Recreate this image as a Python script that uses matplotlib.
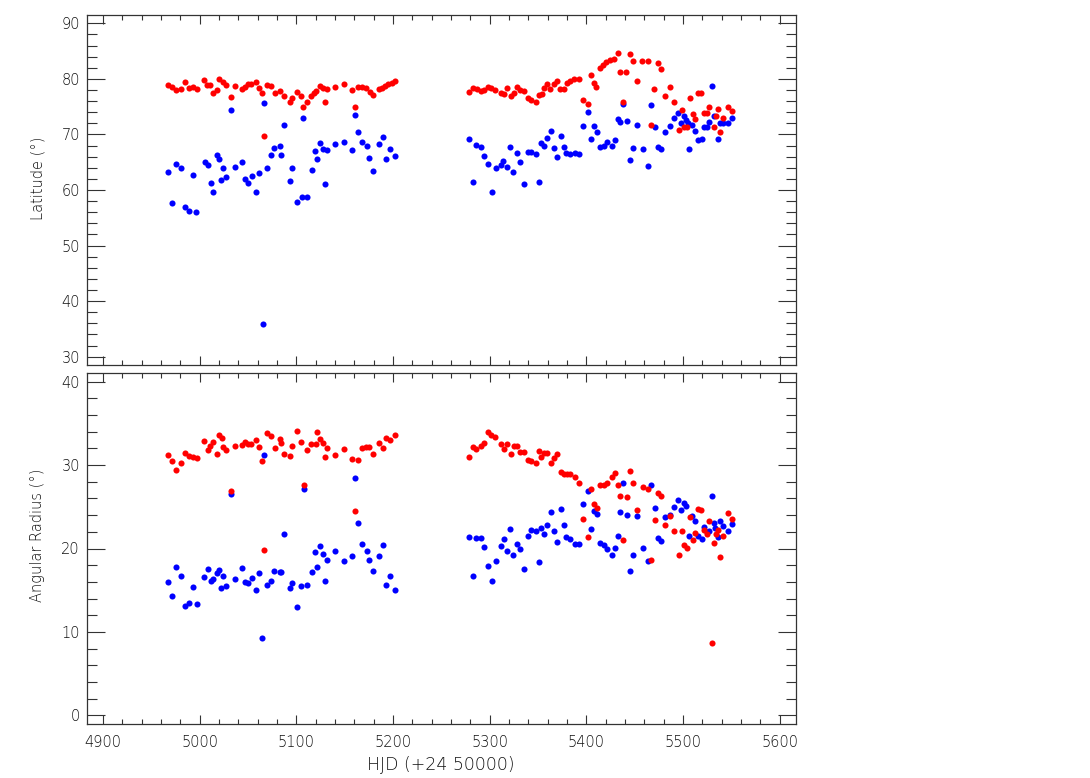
import matplotlib
matplotlib.use("Agg")
import matplotlib.pyplot as plt
from matplotlib.ticker import MultipleLocator

# ---------------- data ----------------
# Latitude panel, red series
lat_red_hjd = [4967.5, 4971.9, 4976.0, 4980.5, 4985.3, 4989.1, 4993.5, 4996.9, 5004.5, 5007.9,
               5011.0, 5013.7, 5017.5, 5020.2, 5024.0, 5027.4, 5032.5, 5037.0, 5043.9, 5046.9,
               5050.0, 5053.1, 5057.9, 5061.7, 5064.7, 5066.8, 5069.5, 5073.6, 5077.8, 5082.9,
               5087.0, 5093.5, 5095.9, 5100.7, 5104.8, 5107.2, 5111.0, 5115.4, 5118.5, 5120.9,
               5124.3, 5127.8, 5129.5, 5132.2, 5139.8, 5149.7, 5157.2, 5160.3, 5163.7, 5168.5,
               5172.6, 5176.4, 5179.5, 5185.3, 5188.4, 5191.8, 5195.2, 5199.0, 5202.4,
               5279.0, 5282.4, 5286.9, 5290.7, 5294.1, 5297.9, 5301.4, 5305.2, 5311.4, 5314.8,
               5318.3, 5322.1, 5325.2, 5328.3, 5331.7, 5335.2, 5339.3, 5343.1, 5347.9, 5351.0,
               5354.5, 5356.5, 5359.6, 5362.8, 5366.2, 5369.7, 5373.1, 5376.5, 5380.0, 5383.4,
               5387.2, 5392.1, 5396.2, 5402.1, 5404.5, 5407.6, 5410.3, 5413.8, 5417.2, 5420.7,
               5424.8, 5428.3, 5433.1, 5435.2, 5437.9, 5441.4, 5445.2, 5448.6, 5452.7, 5457.6,
               5464.1, 5466.9, 5470.3, 5473.8, 5477.2, 5481.7, 5486.5, 5491.0, 5495.5, 5498.6,
               5501.4, 5504.1, 5506.9, 5510.0, 5512.4, 5515.5, 5519.0, 5521.7, 5524.5, 5526.9,
               5531.7, 5534.5, 5536.5, 5538.3, 5541.0, 5546.2, 5550.3]
lat_red = [78.96, 78.48, 77.94, 78.12, 79.38, 78.30, 78.48, 78.12, 79.74, 78.90,
           78.84, 77.52, 78.00, 80.04, 79.38, 78.84, 76.68, 78.66, 78.24, 78.60,
           79.08, 79.02, 79.38, 78.42, 77.52, 69.66, 78.84, 78.78, 77.40, 77.88,
           76.86, 75.90, 76.56, 77.64, 76.92, 74.88, 75.84, 76.92, 77.40, 77.88,
           78.72, 78.30, 75.84, 78.24, 78.48, 79.14, 77.94, 74.94, 78.48, 78.48,
           78.42, 77.70, 77.10, 78.12, 78.36, 78.72, 79.02, 79.32, 79.62,
           77.58, 78.42, 78.12, 77.88, 77.94, 78.60, 78.36, 78.00, 77.40, 77.34,
           78.42, 76.98, 77.46, 78.48, 78.00, 77.88, 76.56, 76.26, 75.84, 77.16,
           77.34, 78.30, 79.02, 78.12, 79.08, 79.68, 78.12, 78.18, 79.32, 79.62,
           80.04, 79.98, 76.26, 75.42, 80.70, 79.32, 78.48, 81.96, 82.44, 83.04,
           83.34, 83.58, 84.66, 81.30, 75.78, 81.30, 84.48, 83.16, 79.62, 83.22,
           83.16, 71.76, 78.12, 82.92, 81.72, 76.86, 78.48, 75.78, 70.74, 74.40,
           71.40, 71.40, 76.50, 73.62, 72.78, 77.52, 77.52, 73.92, 73.92, 75.00,
           71.28, 73.32, 74.58, 70.44, 73.02, 74.88, 74.22]

# Latitude panel, blue series
lat_blue_hjd = [4967.5, 4971.1, 4976.0, 4980.5, 4984.4, 4989.2, 4993.5, 4996.3, 5005.1, 5008.2,
                5011.3, 5013.7, 5017.5, 5020.2, 5022.6, 5024.7, 5027.8, 5032.5, 5037.0, 5044.2,
                5047.3, 5050.4, 5053.8, 5057.9, 5061.7, 5065.5, 5066.8, 5070.2, 5074.0, 5077.4,
                5083.2, 5084.3, 5087.0, 5093.5, 5095.9, 5101.2, 5106.0, 5107.2, 5111.2, 5116.1,
                5119.5, 5121.6, 5125.0, 5127.8, 5129.5, 5132.2, 5139.8, 5149.7, 5157.2, 5160.3,
                5164.1, 5168.5, 5173.0, 5175.4, 5179.1, 5185.6, 5189.4, 5193.2, 5196.9, 5202.1,
                5279.0, 5282.4, 5285.9, 5290.7, 5294.1, 5297.9, 5302.1, 5306.2, 5311.4, 5314.1,
                5318.3, 5321.4, 5324.5, 5327.9, 5331.4, 5335.2, 5339.3, 5343.1, 5347.9, 5351.0,
                5353.4, 5356.5, 5359.6, 5363.1, 5366.5, 5369.7, 5373.8, 5376.5, 5379.3, 5382.8,
                5387.9, 5392.1, 5396.9, 5401.4, 5404.5, 5407.9, 5411.0, 5413.8, 5417.9, 5421.4,
                5426.5, 5429.6, 5432.4, 5435.2, 5437.9, 5441.7, 5445.2, 5448.6, 5452.7, 5458.3,
                5464.1, 5466.9, 5470.7, 5473.8, 5477.2, 5481.7, 5486.5, 5490.7, 5495.2, 5497.9,
                5501.0, 5503.4, 5504.8, 5506.5, 5509.6, 5512.4, 5515.8, 5519.3, 5521.7, 5524.5,
                5527.2, 5530.0, 5531.7, 5536.5, 5537.9, 5541.0, 5546.2, 5550.3]
lat_blue = [63.25, 57.60, 64.69, 64.03, 56.90, 56.30, 62.65, 56.10, 65.04, 64.50,
            61.21, 59.65, 66.30, 65.64, 61.75, 63.97, 62.29, 74.40, 64.09, 64.98,
            61.93, 61.21, 62.53, 59.65, 63.01, 35.90, 75.60, 63.91, 66.24, 67.62,
            67.98, 66.30, 71.76, 61.57, 63.91, 57.90, 58.80, 72.96, 58.70, 63.55,
            67.08, 65.64, 68.46, 67.38, 61.15, 67.14, 68.34, 68.58, 67.14, 73.50,
            70.50, 68.70, 67.98, 65.76, 63.49, 68.34, 69.48, 65.52, 67.44, 66.18,
            69.18, 61.44, 68.04, 67.68, 66.06, 64.68, 59.64, 63.91, 64.57, 65.16,
            64.08, 67.74, 63.19, 66.72, 65.10, 61.03, 66.90, 66.84, 66.48, 61.44,
            68.52, 67.98, 69.36, 70.68, 67.62, 65.88, 69.66, 67.80, 66.72, 66.48,
            66.72, 66.48, 71.58, 74.10, 69.24, 71.52, 70.38, 67.74, 67.86, 68.64,
            67.86, 69.00, 72.84, 72.24, 75.42, 72.42, 65.46, 67.56, 71.70, 67.44,
            64.32, 75.24, 71.34, 67.80, 67.38, 70.50, 71.52, 73.02, 73.92, 72.12,
            73.32, 72.60, 72.00, 67.44, 71.76, 70.68, 69.00, 69.12, 71.34, 71.28,
            72.24, 78.66, 73.38, 69.24, 72.12, 72.12, 72.00, 73.02]

# Angular radius panel, red series
rad_red_hjd = [4967.5, 4971.9, 4975.7, 4980.5, 4985.3, 4989.1, 4993.5, 4996.9, 5004.8, 5008.2,
               5011.0, 5013.7, 5017.5, 5020.2, 5023.0, 5024.7, 5027.8, 5032.5, 5037.0, 5043.9,
               5046.9, 5050.0, 5053.1, 5057.9, 5061.7, 5064.7, 5067.1, 5069.5, 5074.0, 5077.8,
               5083.2, 5084.3, 5087.0, 5093.5, 5095.9, 5100.7, 5104.8, 5107.6, 5111.0, 5115.4,
               5119.9, 5121.6, 5124.7, 5127.8, 5129.5, 5131.9, 5139.8, 5149.7, 5157.2, 5160.3,
               5164.1, 5168.5, 5172.3, 5175.7, 5179.1, 5185.6, 5189.4, 5193.2, 5196.9, 5202.1,
               5279.0, 5282.4, 5286.2, 5290.7, 5294.5, 5297.9, 5301.4, 5305.2, 5311.4, 5314.8,
               5318.3, 5321.7, 5325.2, 5328.3, 5331.7, 5335.2, 5339.3, 5343.1, 5347.9, 5351.0,
               5353.4, 5356.5, 5359.6, 5363.1, 5366.5, 5369.7, 5373.8, 5376.5, 5380.0, 5383.4,
               5387.9, 5392.1, 5396.9, 5401.4, 5404.5, 5407.9, 5411.0, 5413.8, 5417.9, 5421.4,
               5426.5, 5429.6, 5433.1, 5435.2, 5438.3, 5441.7, 5445.2, 5448.6, 5452.7, 5458.3,
               5464.1, 5466.9, 5470.7, 5473.8, 5477.2, 5481.7, 5486.5, 5491.0, 5495.5, 5498.6,
               5501.4, 5504.1, 5506.9, 5510.0, 5512.4, 5515.5, 5519.0, 5521.7, 5524.5, 5526.9,
               5529.6, 5531.7, 5534.5, 5536.5, 5538.3, 5541.0, 5546.2, 5550.3]
rad_red = [31.24, 30.52, 29.44, 30.28, 31.40, 31.12, 30.92, 30.88, 32.84, 31.76,
           32.32, 32.76, 31.32, 33.60, 33.24, 32.12, 31.76, 26.88, 32.32, 32.44,
           32.76, 32.48, 32.48, 33.00, 32.16, 30.48, 19.80, 33.80, 33.52, 32.08,
           33.08, 32.60, 31.28, 31.08, 32.24, 34.12, 32.80, 27.64, 31.84, 32.52,
           32.56, 33.96, 33.16, 32.60, 30.92, 32.08, 31.16, 31.88, 30.68, 24.52,
           30.56, 32.00, 32.20, 32.12, 31.28, 32.60, 32.04, 33.20, 33.00, 33.60,
           31.00, 32.16, 31.88, 32.32, 32.68, 33.92, 33.64, 33.36, 32.56, 31.96,
           32.48, 31.32, 32.32, 32.28, 31.60, 31.60, 30.64, 30.52, 30.20, 31.64,
           30.92, 31.40, 31.48, 30.24, 30.88, 31.36, 29.20, 28.96, 28.96, 28.88,
           28.60, 27.88, 23.52, 21.32, 27.08, 25.36, 24.88, 27.60, 27.60, 27.88,
           28.56, 29.08, 27.56, 26.28, 21.04, 26.20, 29.24, 27.80, 24.60, 27.36,
           27.12, 18.64, 23.36, 26.60, 26.28, 22.76, 23.88, 22.08, 19.20, 22.08,
           20.36, 20.08, 23.72, 21.04, 21.80, 24.76, 24.64, 22.24, 21.68, 23.28,
           8.64, 20.60, 21.72, 22.20, 18.96, 21.44, 24.20, 23.52]

# Angular radius panel, blue series
rad_blue_hjd = [4967.5, 4971.9, 4976.0, 4980.5, 4985.3, 4989.1, 4993.5, 4996.9, 5004.8, 5008.2,
                5011.3, 5013.7, 5017.5, 5020.2, 5022.6, 5024.7, 5027.8, 5032.5, 5037.0, 5044.2,
                5047.3, 5050.4, 5053.8, 5057.9, 5061.7, 5064.7, 5067.1, 5070.2, 5074.0, 5077.4,
                5083.2, 5084.3, 5087.0, 5093.5, 5095.9, 5100.7, 5104.8, 5107.6, 5111.0, 5116.1,
                5119.5, 5121.6, 5125.0, 5127.8, 5129.5, 5132.2, 5139.8, 5149.7, 5157.2, 5160.3,
                5164.1, 5168.5, 5173.0, 5175.4, 5179.1, 5185.6, 5189.4, 5193.2, 5196.9, 5202.1,
                5279.0, 5282.4, 5286.2, 5290.7, 5294.5, 5297.9, 5302.1, 5306.2, 5311.4, 5314.8,
                5318.3, 5321.4, 5324.5, 5327.9, 5331.4, 5335.2, 5339.3, 5343.1, 5347.9, 5351.0,
                5353.4, 5356.5, 5359.6, 5363.1, 5366.5, 5369.7, 5373.8, 5376.5, 5379.3, 5382.8,
                5387.9, 5392.1, 5396.9, 5401.4, 5404.5, 5407.9, 5411.0, 5413.8, 5417.9, 5421.4,
                5426.5, 5429.6, 5432.4, 5435.2, 5437.9, 5441.7, 5445.2, 5448.6, 5452.7, 5458.3,
                5464.1, 5466.9, 5470.7, 5473.8, 5477.2, 5481.7, 5486.5, 5490.7, 5495.2, 5497.9,
                5501.0, 5503.4, 5506.5, 5509.6, 5512.4, 5515.8, 5519.3, 5521.7, 5524.5, 5527.2,
                5530.0, 5531.7, 5533.4, 5536.5, 5537.9, 5541.0, 5546.2, 5550.3]
rad_blue = [15.96, 14.28, 17.76, 16.72, 13.16, 13.48, 15.36, 13.32, 16.64, 17.52,
            16.08, 16.36, 17.12, 17.48, 15.24, 16.76, 15.48, 26.56, 16.32, 17.68,
            16.00, 15.92, 16.52, 15.00, 17.12, 9.32, 31.24, 15.64, 16.16, 17.32,
            17.20, 17.16, 21.72, 15.32, 15.88, 13.00, 15.52, 27.16, 15.64, 17.16,
            19.64, 17.80, 20.28, 19.40, 16.16, 18.64, 19.76, 18.52, 19.08, 28.48,
            23.00, 20.52, 19.76, 18.60, 17.28, 19.08, 20.44, 15.60, 16.68, 15.00,
            21.32, 16.68, 21.24, 21.20, 20.20, 17.92, 16.16, 18.48, 20.28, 21.12,
            19.76, 22.36, 19.28, 20.52, 19.92, 17.56, 21.52, 22.16, 22.12, 18.44,
            22.44, 21.76, 22.76, 24.32, 22.12, 20.76, 24.76, 22.76, 21.36, 21.08,
            20.52, 20.48, 25.36, 26.92, 22.36, 24.52, 24.08, 20.64, 20.36, 19.96,
            19.28, 20.08, 21.48, 24.32, 27.80, 24.00, 17.36, 19.20, 23.84, 20.08,
            18.48, 27.60, 24.80, 21.20, 20.92, 23.80, 24.04, 24.96, 25.84, 24.60,
            25.44, 25.08, 21.52, 23.88, 23.32, 21.48, 21.12, 22.60, 22.00, 22.08,
            26.28, 23.00, 22.48, 21.32, 23.28, 22.72, 22.12, 22.88]

x_major_ticks = [4900, 5000, 5100, 5200, 5300, 5400, 5500, 5600]
lat_ticks = [30, 40, 50, 60, 70, 80, 90]
rad_ticks = [0, 10, 20, 30, 40]

# ---------------- figure ----------------
W, H = 1090, 778
fig = plt.figure(figsize=(W / 100, H / 100), dpi=100)
plt.rcParams['font.family'] = ['DejaVu Sans']
plt.rcParams['font.weight'] = 'light'

def px_axes(x0, y0, x1, y1):
    return fig.add_axes([x0 / W, 1 - y1 / H, (x1 - x0) / W, (y1 - y0) / H])

ax1 = px_axes(87, 15, 796, 364.5)
ax2 = px_axes(87, 373, 796, 724)

txt_color = '#111111'
ms = 4.4

for ax in (ax1, ax2):
    ax.set_xlim(4883.5, 5617)
    ax.set_xticks(x_major_ticks)
    ax.xaxis.set_minor_locator(MultipleLocator(20))
    ax.yaxis.set_minor_locator(MultipleLocator(2))
    ax.tick_params(which='both', direction='in', top=True, right=True,
                   colors='#333333', labelcolor=txt_color, labelsize=10.5, width=0.8)
    ax.tick_params(axis='x', which='major', length=6.5, pad=8)
    ax.tick_params(axis='x', which='minor', length=3.5)
    ax.tick_params(axis='y', which='major', length=13, pad=5)
    ax.tick_params(axis='y', which='minor', length=7)
    for s in ax.spines.values():
        s.set_linewidth(0.9)
        s.set_color('#333333')

ax1.plot(lat_blue_hjd, lat_blue, 'o', color='#0000ff', ms=ms, mec='none')
ax1.plot(lat_red_hjd, lat_red, 'o', color='#ff0000', ms=ms, mec='none')
ax1.set_ylim(28.6, 91.5)
ax1.set_yticks(lat_ticks)
ax1.tick_params(axis='x', labelbottom=False)

ax2.plot(rad_blue_hjd, rad_blue, 'o', color='#0000ff', ms=ms, mec='none')
ax2.plot(rad_red_hjd, rad_red, 'o', color='#ff0000', ms=ms, mec='none')
ax2.set_ylim(-1.05, 41.05)
ax2.set_yticks(rad_ticks)

for ax in (ax1, ax2):
    for lbl in ax.get_xticklabels() + ax.get_yticklabels():
        lbl.set_fontweight('light')

fig.text(441 / W, 1 - 765 / H, 'HJD (+24 50000)', ha='center', va='center',
         fontsize=12.5, color=txt_color, fontweight='light')
fig.text(38 / W, 1 - 178 / H, 'Latitude (°)', ha='center', va='center',
         rotation=90, fontsize=10.5, color=txt_color, fontweight='light')
fig.text(38 / W, 1 - 535 / H, 'Angular Radius (°)', ha='center', va='center',
         rotation=90, fontsize=10.5, color=txt_color, fontweight='light')

fig.savefig('out.png', dpi=100)
